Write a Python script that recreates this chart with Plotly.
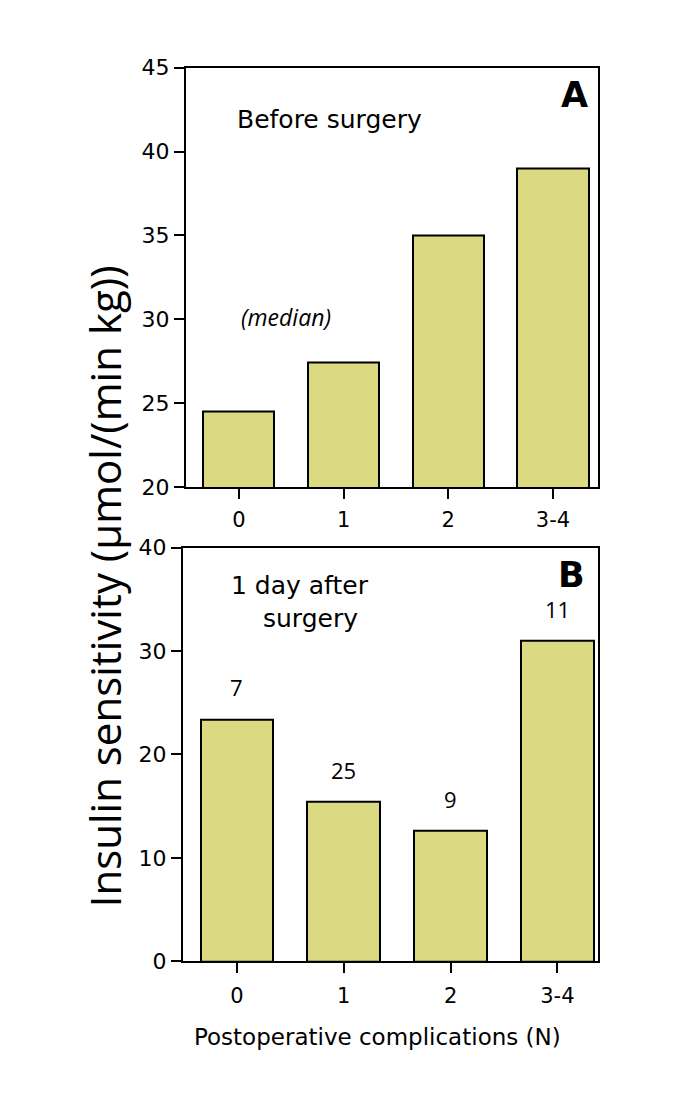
import plotly.graph_objects as go

categories = ["0", "1", "2", "3-4"]
before_values = [24.5, 27.4, 35.0, 39.0]
after_values = [23.4, 15.4, 12.6, 31.0]
after_n = ["7", "25", "9", "11"]
ytick_a = [20, 25, 30, 35, 40, 45]
ytick_b = [0, 10, 20, 30, 40]

W, H = 685, 1109
bar_color = "#DBD981"
tick_font = dict(family="DejaVu Sans", size=22, color="black")
cat_font = dict(family="DejaVu Sans", size=21, color="black")


def X(p):
    # target pixel (x) -> paper fraction (calibrated)
    return (p - 8) / W


def Y(p):
    # target pixel (y, from top) -> paper fraction (calibrated)
    return 1 - ((p - 15) / 0.9855) / H


fig = go.Figure()
fig.add_trace(go.Bar(x=list(range(4)), y=before_values, width=0.68,
                     marker=dict(color=bar_color, line=dict(color="black", width=2)),
                     xaxis="x", yaxis="y", showlegend=False))
fig.add_trace(go.Bar(x=list(range(4)), y=after_values, width=0.68,
                     marker=dict(color=bar_color, line=dict(color="black", width=2)),
                     xaxis="x2", yaxis="y2", showlegend=False))

ax_common = dict(showline=True, linecolor="black", linewidth=2, mirror=True,
                 showgrid=False, zeroline=False, ticks="outside", ticklen=10,
                 tickwidth=2, tickcolor="black")

fig.update_layout(
    width=W, height=H, margin=dict(l=0, r=0, t=0, b=0),
    paper_bgcolor="white", plot_bgcolor="white", bargap=0,
    xaxis=dict(domain=[X(186), X(598)], range=[-0.505, 3.43],
               tickvals=list(range(4)), ticktext=categories, tickfont=cat_font,
               ticklabelstandoff=3, anchor="y", **ax_common),
    yaxis=dict(domain=[Y(486), Y(63)], range=[20, 45], tickvals=ytick_a,
               tickfont=tick_font, anchor="x", **ax_common),
    xaxis2=dict(domain=[X(183), X(598)], range=[-0.505, 3.38],
                tickvals=list(range(4)), ticktext=categories, tickfont=cat_font,
                ticklabelstandoff=5, anchor="y2", **ax_common),
    yaxis2=dict(domain=[Y(964), Y(547)], range=[0, 40], tickvals=ytick_b,
                tickfont=tick_font, anchor="x2", **ax_common),
)


def at(x, y):
    return dict(x=X(x), y=Y(y), xref="paper", yref="paper", showarrow=False,
                xanchor="center", yanchor="middle")


geneva = "DejaVu Sans"
anns = [
    dict(text="Before surgery", font=dict(family=geneva, size=25, color="black"), **at(329, 115)),
    dict(text="<i>(median)</i>", font=dict(family="Open Sans", size=23, color="black"), **at(286, 314)),
    dict(text="<b>A</b>", font=dict(family=geneva, size=35, color="black"), **at(574, 91)),
    dict(text="1 day after", font=dict(family=geneva, size=25, color="black"), **at(300, 585)),
    dict(text="surgery", font=dict(family=geneva, size=25, color="black"), **at(310, 618)),
    dict(text="<b>B</b>", font=dict(family=geneva, size=35, color="black"), **at(571, 575)),
    dict(text="Postoperative complications (N)", font=dict(family=geneva, size=23, color="black"),
         **at(377, 1040)),
    dict(text="Insulin sensitivity (µmol/(min kg))", font=dict(family="Open Sans", size=42, color="black"),
         textangle=-90, **at(104, 586)),
]
for i, (v, n) in enumerate(zip(after_values, after_n)):
    anns.append(dict(text=n, x=i, y=v, xref="x2", yref="y2", showarrow=False,
                     xanchor="center", yanchor="bottom", yshift=15,
                     font=dict(family="Open Sans", size=22, color="black")))
fig.update_layout(annotations=anns)

fig.write_html("out.html")
